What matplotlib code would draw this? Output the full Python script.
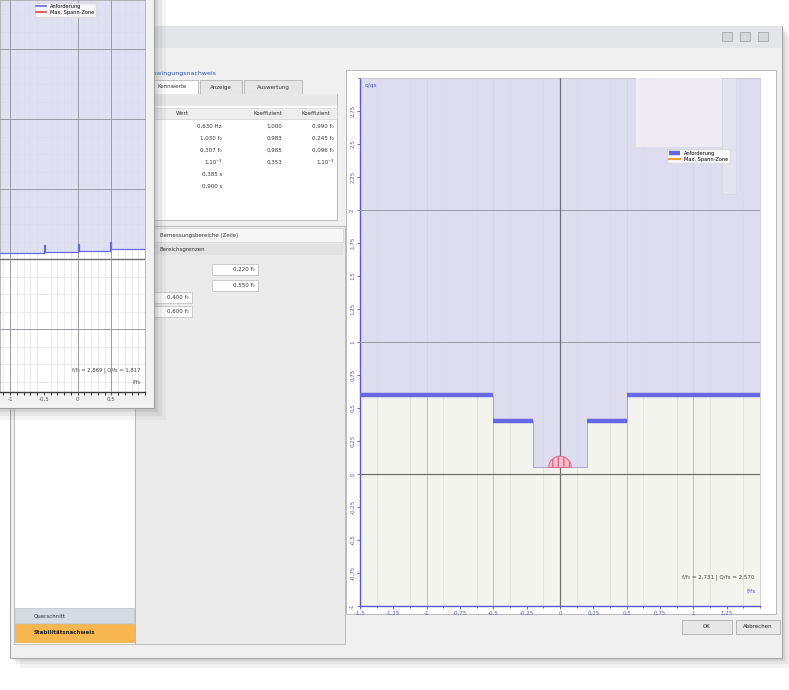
import numpy as np
import matplotlib
matplotlib.use('Agg')
import matplotlib.pyplot as plt
from matplotlib.patches import Rectangle, Wedge
from matplotlib.ticker import MultipleLocator, FixedLocator

# ---- main chart data
step_edges = [-1.5, -0.5, -0.2, 0.2, 0.5, 1.5]
step_levels = [0.6, 0.4, 0.05, 0.4, 0.6]
shelf_left = [-1.5, -0.5, 0.2, 0.5]
shelf_right = [-0.5, -0.2, 0.5, 1.5]
shelf_level = [0.6, 0.4, 0.4, 0.6]
zone_center = 0.0
zone_level = 0.05
zone_radius = 0.085
x_ticks = [-1.5, -1.25, -1.0, -0.75, -0.5, -0.25, 0.0, 0.25, 0.5, 0.75, 1.0, 1.25]
y_ticks = [-1.0, -0.75, -0.5, -0.25, 0.0, 0.25, 0.5, 0.75, 1.0, 1.25, 1.5,
           1.75, 2.0, 2.25, 2.5, 2.75]

# ---- small chart in the window in front
bg_edges = [-1.15, -0.5, -0.48, 0.0, 0.02, 0.48, 0.5, 1.0]
bg_levels = [0.08, 0.2, 0.1, 0.22, 0.12, 0.24, 0.14]
bg_x_ticks = [-1.0, -0.5, 0.0, 0.5]

# ---- table in the settings panel
col_wert = ['0,630 Hz', '1,030 f\u2080', '0,307 f\u2080', '1,10\u207b\u00b3', '0,385 s', '0,900 s']
col_k1 = ['1,000', '0,983', '0,985', '0,353']
col_k2 = ['0,990 f\u2080', '0,245 f\u2080', '0,096 f\u2080', '1,10\u207b\u00b3']

lav = '#d9d9f0'
paper = '#f4f4ee'
blue = '#6868e4'
tick_blue = '#5858d0'


def fmt(v):
    s = ('%g' % v).replace('.', ',')
    return s


def px(fig_w, fig_h, x0, y0, x1, y1):
    # pixel box (y down) -> figure fraction [l, b, w, h]
    return [x0 / fig_w, 1 - y1 / fig_h, (x1 - x0) / fig_w, (y1 - y0) / fig_h]


W, H = 789, 690
fig = plt.figure(figsize=(W / 100, H / 100), dpi=100)
fig.patch.set_facecolor('white')

# ---------------- window chrome drawn in pixel coords
ui = fig.add_axes([0, 0, 1, 1], zorder=0)
ui.set_xlim(0, W)
ui.set_ylim(H, 0)
ui.axis('off')

for off, a in [(10, 0.10), (6, 0.15), (3, 0.2)]:
    ui.add_patch(Rectangle((10 + off, 26 + off), 772, 632, color='#909090', alpha=a, lw=0))
ui.add_patch(Rectangle((10, 26), 772, 632, facecolor='#f0f0f0', edgecolor='#a8a8a8', lw=0.8))
ui.add_patch(Rectangle((10, 26), 772, 22, facecolor='#e3e5e9', lw=0))
for bx in [722, 740, 758]:
    ui.add_patch(Rectangle((bx, 32), 10, 9, facecolor='#d4d6da', edgecolor='#9a9a9a', lw=0.5))
ui.text(146, 74, 'Schwingungsnachweis', color='#2a55b0', fontsize=4.5, va='center')

# tabs
for tx, tw, lbl, fc in [(146, 52, 'Kennwerte', 'white'), (200, 42, 'Anzeige', '#e6e6e6'),
                        (244, 58, 'Auswertung', '#e6e6e6')]:
    ui.add_patch(Rectangle((tx, 80), tw, 14, facecolor=fc, edgecolor='#a8a8a8', lw=0.5))
    ui.text(tx + tw / 2, 87, lbl, fontsize=4, ha='center', va='center', color='#333333')

# table panel
ui.add_patch(Rectangle((140, 94), 197, 126, facecolor='white', edgecolor='#b4b4b4', lw=0.6))
ui.add_patch(Rectangle((140, 94), 197, 12, facecolor='#e8e8e8', lw=0))
ui.add_patch(Rectangle((140, 108), 197, 11, facecolor='#eeeeee', edgecolor='#c8c8c8', lw=0.4))
ui.text(182, 113.5, 'Wert', fontsize=4, ha='center', va='center', color='#333333')
ui.text(268, 113.5, 'Koeffizient', fontsize=4, ha='center', va='center', color='#333333')
ui.text(316, 113.5, 'Koeffizient', fontsize=4, ha='center', va='center', color='#333333')
row_y = [126, 138, 150, 162, 174, 186]
for i, v in enumerate(col_wert):
    ui.text(222, row_y[i], v, fontsize=4, ha='right', va='center', color='#333333')
for i, v in enumerate(col_k1):
    ui.text(282, row_y[i], v, fontsize=4, ha='right', va='center', color='#333333')
for i, v in enumerate(col_k2):
    ui.text(334, row_y[i], v, fontsize=4, ha='right', va='center', color='#333333')

# lower settings panel
ui.add_patch(Rectangle((135, 226), 210, 418, facecolor='#ebebeb', edgecolor='#b4b4b4', lw=0.6))
ui.add_patch(Rectangle((137, 228), 206, 14, facecolor='#f6f6f6', edgecolor='#c8c8c8', lw=0.4))
ui.text(160, 235, 'Bemessungsbereiche (Zeile)', fontsize=4, va='center', color='#333333')
ui.add_patch(Rectangle((137, 244), 206, 11, facecolor='#e2e2e2', lw=0))
ui.text(160, 249.5, 'Bereichsgrenzen', fontsize=4, va='center', color='#333333')
for bx, by, lbl in [(212, 264, '0,220 f\u2080'), (212, 280, '0,550 f\u2080'),
                    (146, 292, '0,400 f\u2080'), (146, 306, '0,600 f\u2080')]:
    ui.add_patch(Rectangle((bx, by), 46, 11, facecolor='white', edgecolor='#b8b8b8', lw=0.5))
    ui.text(bx + 43, by + 5.5, lbl, fontsize=4, ha='right', va='center', color='#333333')

# left navigation
ui.add_patch(Rectangle((14, 100), 121, 544, facecolor='white', edgecolor='#b4b4b4', lw=0.6))
ui.add_patch(Rectangle((15, 608), 119, 15, facecolor='#d6dae2', edgecolor='#b0b4bc', lw=0.4))
ui.text(34, 615.5, 'Querschnitt', fontsize=4, va='center', color='#333333')
ui.add_patch(Rectangle((15, 624), 119, 18, facecolor='#f7b64e', edgecolor='#d89a3a', lw=0.4))
ui.text(34, 633, 'Stabilit\u00e4tsnachweis', fontsize=4, va='center', color='#222222',
        fontweight='bold')

# chart container and buttons
ui.add_patch(Rectangle((346, 70), 430, 544, facecolor='white', edgecolor='#b0b0b0', lw=0.6))
for bx, bw, lbl in [(682, 50, 'OK'), (736, 44, 'Abbrechen')]:
    ui.add_patch(Rectangle((bx, 620), bw, 14, facecolor='#e8e8e8', edgecolor='#a0a0a0', lw=0.5))
    ui.text(bx + bw / 2, 627, lbl, fontsize=4, ha='center', va='center', color='#222222')

# ---------------- main chart
ax = fig.add_axes(px(W, H, 360, 78, 760, 606), zorder=1)
ax.set_facecolor(paper)
ax.set_xlim(step_edges[0], step_edges[-1])
ax.set_ylim(-1, 3)

ax.xaxis.set_minor_locator(MultipleLocator(0.125))
ax.yaxis.set_minor_locator(MultipleLocator(0.25))
ax.grid(which='minor', color='#dedcd4', lw=0.5)
for gx in [-1.0, -0.5, 0.5, 1.0]:
    ax.axvline(gx, color='#b8b8c0', lw=0.6, zorder=1)
for gy in [1.0, 2.0]:
    ax.axhline(gy, color='#9a9aa4', lw=0.7, zorder=3)

xs = step_edges
ys = step_levels + [step_levels[-1]]
ax.fill_between(xs, ys, 3, step='post', color=lav, alpha=0.85, lw=0, zorder=2)
ax.step(xs, ys, where='post', color='#9c9cc8', lw=0.6, zorder=3)
ax.axhline(0, color='#707070', lw=0.9, zorder=3)
ax.axvline(0, color='#707070', lw=0.9, zorder=3)
ax.hlines(shelf_level, shelf_left, shelf_right, color=blue, lw=3.2, zorder=4,
          label='Anforderung')
ax.add_patch(Wedge((zone_center, zone_level), zone_radius, 0, 180, facecolor='#f6c0cc',
                   edgecolor='#e06a88', lw=0.7, hatch='|||', zorder=5))
ax.plot([], [], color='#f0a040', lw=1.5, label='Max. Spann-Zone')

# top-right overview box
ax.add_patch(Rectangle((0.69, 0.87), 0.215, 0.13, transform=ax.transAxes,
                       facecolor='#eeecf2', edgecolor='none', zorder=6))
ax.add_patch(Rectangle((0.905, 0.78), 0.035, 0.22, transform=ax.transAxes,
                       facecolor='#e4e4f0', edgecolor='#d0d0e0', lw=0.4, zorder=6))
leg = ax.legend(loc='upper right', bbox_to_anchor=(0.93, 0.87), fontsize=3.6,
                frameon=True, handlelength=2.2, borderpad=0.3, labelspacing=0.2,
                fancybox=False, edgecolor='#d8d8d8')
leg.set_zorder(7)

ax.xaxis.set_major_locator(FixedLocator(x_ticks))
ax.yaxis.set_major_locator(FixedLocator(y_ticks))
ax.set_xticklabels([fmt(v) for v in x_ticks])
ax.set_yticklabels([fmt(v) for v in y_ticks], rotation=90, va='center')
ax.tick_params(which='both', colors=tick_blue, labelsize=4, length=2, width=0.6, pad=1.5)
ax.tick_params(which='minor', length=1.5)
for s in ['left', 'bottom']:
    ax.spines[s].set_color(tick_blue)
    ax.spines[s].set_linewidth(1.0)
for s in ['top', 'right']:
    ax.spines[s].set_color('#c0c0c8')
    ax.spines[s].set_linewidth(0.5)
ax.text(0.012, 0.99, 'q/qs', transform=ax.transAxes, fontsize=4.2, color=tick_blue,
        ha='left', va='top', zorder=8)
ax.text(0.985, 0.055, 'f/f\u2080 = 2,731 | Q/fs = 2,570', transform=ax.transAxes,
        fontsize=4, color='#444444', ha='right', va='center', zorder=8)
ax.text(0.99, 0.028, 'f/fs', transform=ax.transAxes, fontsize=4.2, color=tick_blue,
        ha='right', va='center', zorder=8)

# ---------------- window in front (top left)
fr = fig.add_axes([0, 0, 1, 1], zorder=2)
fr.set_xlim(0, W)
fr.set_ylim(H, 0)
fr.axis('off')
fr.patch.set_alpha(0)
for off, a in [(12, 0.08), (8, 0.12), (4, 0.18)]:
    fr.add_patch(Rectangle((-6, -6), 160 + off, 414 + off, color='#808080', alpha=a, lw=0))
fr.add_patch(Rectangle((-6, -6), 160, 414, facecolor='#f2f2f2', edgecolor='#a0a0a0', lw=0.8))

bx_ax = fig.add_axes(px(W, H, 0, 0, 145, 392), zorder=3)
bx_ax.set_facecolor('white')
bx_ax.set_xlim(bg_edges[0], bg_edges[-1])
bx_ax.set_ylim(-1.9, 3.7)
bx_ax.xaxis.set_minor_locator(MultipleLocator(0.1))
bx_ax.yaxis.set_minor_locator(MultipleLocator(0.25))
bx_ax.grid(which='minor', color='#e2e2e8', lw=0.5)
bxs = bg_edges
bys = bg_levels + [bg_levels[-1]]
bx_ax.fill_between(bxs, bys, 3.7, step='post', color=lav, alpha=0.8, lw=0, zorder=2)
bx_ax.step(bxs, bys, where='post', color=blue, lw=0.9, zorder=4)
for gy in [-1.0, 1.0, 2.0, 3.0]:
    bx_ax.axhline(gy, color='#9a9aa4', lw=0.7, zorder=3)
bx_ax.axhline(0, color='#707070', lw=1.0, zorder=3)
for gx in [-1.0, 0.0, 0.5]:
    bx_ax.axvline(gx, color='#9a9aa4', lw=0.7, zorder=3)
bx_ax.plot([], [], color=blue, lw=1.2, label='Anforderung')
bx_ax.plot([], [], color='#e04040', lw=1.2, label='Max. Spann-Zone')
l2 = bx_ax.legend(loc='upper center', bbox_to_anchor=(0.45, 1.0), fontsize=3.6,
                  frameon=True, handlelength=2.0, borderpad=0.3, labelspacing=0.2,
                  fancybox=False, edgecolor='#d8d8d8')
bx_ax.xaxis.set_major_locator(FixedLocator(bg_x_ticks))
bx_ax.set_xticklabels([fmt(v) for v in bg_x_ticks])
bx_ax.set_yticks([])
bx_ax.tick_params(colors='#555555', labelsize=4, length=2, pad=1.5)
for s in bx_ax.spines.values():
    s.set_color('#a0a0a0')
    s.set_linewidth(0.5)
bx_ax.spines['bottom'].set_color('#404040')
bx_ax.spines['bottom'].set_linewidth(1.0)
bx_ax.text(0.97, 0.055, 'f/f\u2080 = 2,869 | Q/fs = 1,817', transform=bx_ax.transAxes,
           fontsize=3.8, color='#444444', ha='right', va='center')
bx_ax.text(0.97, 0.025, 'f/fs', transform=bx_ax.transAxes, fontsize=3.8,
           color='#444444', ha='right', va='center')

fig.savefig('out.png', dpi=100)
